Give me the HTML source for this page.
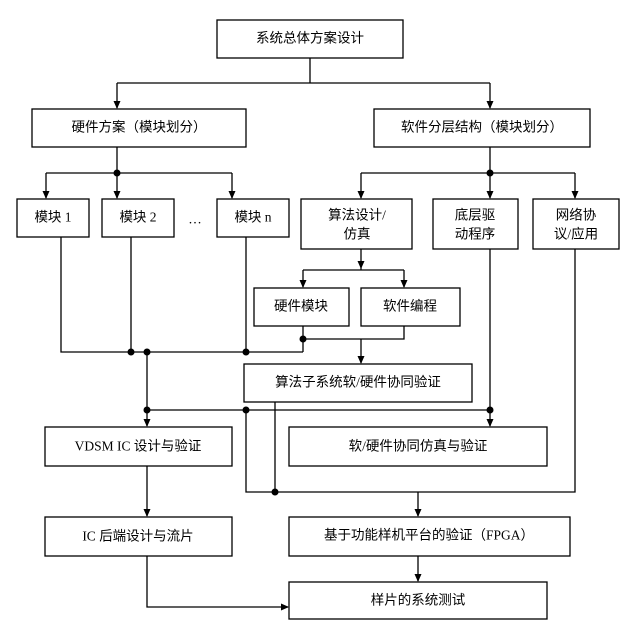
<!DOCTYPE html>
<html><head><meta charset="utf-8"><style>
body{margin:0;background:#fff;}
text{font-family:"Liberation Serif","Noto Sans CJK SC",sans-serif;font-size:13.5px;fill:#000;text-anchor:middle;dominant-baseline:central;}
</style></head><body>
<svg width="635" height="625" viewBox="0 0 635 625" xmlns="http://www.w3.org/2000/svg">
<defs><marker id="a" markerWidth="8" markerHeight="8" refX="7" refY="4" orient="auto" markerUnits="userSpaceOnUse"><path d="M0,0.5 L8,4 L0,7.5z" fill="#000"/></marker></defs>
<g fill="#fff" stroke="#000" stroke-width="1.3">
<rect x="217" y="20" width="186" height="38"/>
<rect x="32" y="109" width="214" height="38"/>
<rect x="374" y="109" width="216" height="38"/>
<rect x="17" y="199" width="72" height="38"/>
<rect x="102" y="199" width="72" height="38"/>
<rect x="217" y="199" width="72" height="38"/>
<rect x="301" y="199" width="111" height="50"/>
<rect x="433" y="199" width="85" height="50"/>
<rect x="533" y="199" width="86" height="50"/>
<rect x="254" y="288" width="95" height="38"/>
<rect x="361" y="288" width="99" height="38"/>
<rect x="244" y="364" width="228" height="38"/>
<rect x="45" y="427" width="187" height="39"/>
<rect x="289" y="427" width="258" height="39"/>
<rect x="45" y="517" width="187" height="39"/>
<rect x="289" y="517" width="281" height="39"/>
<rect x="289" y="582" width="258" height="37"/>
</g>
<g fill="none" stroke="#000" stroke-width="1.3">
<path d="M310 58V83M117 83H490"/>
<path d="M117 83V108" marker-end="url(#a)"/><path d="M490 83V108" marker-end="url(#a)"/>
<path d="M117 147V173M46 173H232"/>
<path d="M46 173V198" marker-end="url(#a)"/><path d="M117 173V198" marker-end="url(#a)"/><path d="M232 173V198" marker-end="url(#a)"/>
<path d="M490 147V173M361 173H575"/>
<path d="M361 173V198" marker-end="url(#a)"/><path d="M490 173V198" marker-end="url(#a)"/><path d="M575 173V198" marker-end="url(#a)"/>
<path d="M361 249V268" marker-end="url(#a)"/><path d="M361 268V270M303 270H404"/>
<path d="M303 270V287" marker-end="url(#a)"/><path d="M404 270V287" marker-end="url(#a)"/>
<path d="M404 326V339H303M303 326V352"/>
<path d="M361 339V363" marker-end="url(#a)"/>
<path d="M61 237V352H303M131 237V352M246 237V352"/>
<path d="M147 352V426" marker-end="url(#a)"/>
<path d="M147 410H490M490 249V426" marker-end="url(#a)"/>
<path d="M246 410V492H575V249M275 402V492"/>
<path d="M418 492V516" marker-end="url(#a)"/>
<path d="M147 466V516" marker-end="url(#a)"/>
<path d="M418 556V581" marker-end="url(#a)"/>
<path d="M147 556V607H288" marker-end="url(#a)"/>
</g>
<g fill="#000">
<circle cx="117" cy="173" r="3.5"/><circle cx="490" cy="173" r="3.5"/>
<circle cx="303" cy="339" r="3.5"/>
<circle cx="131" cy="352" r="3.5"/><circle cx="147" cy="352" r="3.5"/><circle cx="246" cy="352" r="3.5"/>
<circle cx="147" cy="410" r="3.5"/><circle cx="246" cy="410" r="3.5"/><circle cx="490" cy="410" r="3.5"/>
<circle cx="275" cy="492" r="3.5"/>
</g>
<text x="310" y="38">系统总体方案设计</text>
<text x="139" y="127">硬件方案（模块划分）</text>
<text x="482" y="127">软件分层结构（模块划分）</text>
<text x="53" y="217">模块 1</text>
<text x="138" y="217">模块 2</text>
<text x="195" y="219">…</text>
<text x="253" y="217">模块 n</text>
<text x="357" y="215">算法设计/</text><text x="357" y="234">仿真</text>
<text x="475" y="215">底层驱</text><text x="475" y="234">动程序</text>
<text x="576" y="215">网络协</text><text x="576" y="234">议/应用</text>
<text x="301" y="306">硬件模块</text>
<text x="410" y="306">软件编程</text>
<text x="358" y="382">算法子系统软/硬件协同验证</text>
<text x="138" y="446">VDSM IC 设计与验证</text>
<text x="418" y="446">软/硬件协同仿真与验证</text>
<text x="138" y="536">IC 后端设计与流片</text>
<text x="429" y="535">基于功能样机平台的验证（FPGA）</text>
<text x="418" y="600">样片的系统测试</text>
</svg>
</body></html>
